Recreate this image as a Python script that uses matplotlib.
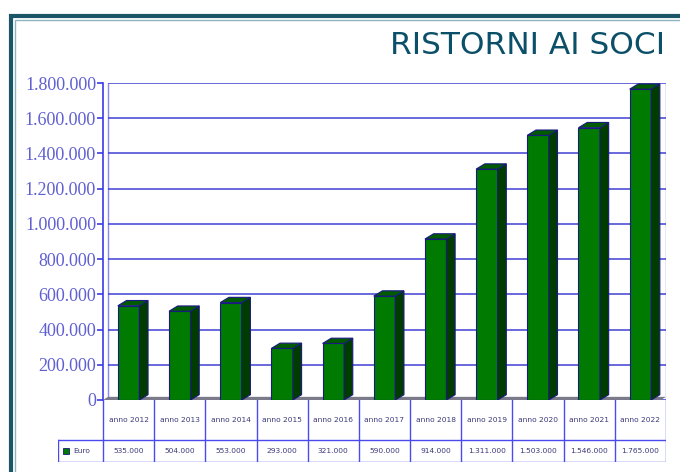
import numpy as np
import matplotlib.pyplot as plt
from matplotlib.patches import Polygon, Rectangle

plt.rcParams['font.serif'] = ['Liberation Serif', 'DejaVu Serif']

years = ['anno 2012', 'anno 2013', 'anno 2014', 'anno 2015', 'anno 2016', 'anno 2017',
         'anno 2018', 'anno 2019', 'anno 2020', 'anno 2021', 'anno 2022']
euro = [535000, 504000, 553000, 293000, 321000, 590000,
        914000, 1311000, 1503000, 1546000, 1765000]
value_labels = ['535.000', '504.000', '553.000', '293.000', '321.000', '590.000',
                '914.000', '1.311.000', '1.503.000', '1.546.000', '1.765.000']
yticks = np.arange(0, 1800001, 200000)

blue = '#3a3ae8'
tick_col = '#5f5fd2'
green = '#007a00'
dark_green = '#003c00'

W, H = 680, 472
fig = plt.figure(figsize=(W / 100, H / 100), dpi=100)
fig.patch.set_facecolor('white')

# outer frame
fig.patches.append(Rectangle((11 / W, -0.1), 1.2, (472 - 16) / H + 0.1, transform=fig.transFigure,
                             fill=False, ec='#1b5668', lw=3))
fig.patches.append(Rectangle((15 / W, -0.1), 1.2, (472 - 20) / H + 0.1, transform=fig.transFigure,
                             fill=False, ec='#8fb4c0', lw=1))

fig.text(665 / W, 1 - 45 / H, 'RISTORNI AI SOCI', ha='right', va='center',
         fontsize=22.5, color='#0b5068', family='DejaVu Sans')

ax = fig.add_axes([103 / W, (472 - 400) / H, (666 - 103) / W, (400 - 83) / H])
n = len(euro)
ax.set_xlim(0, n)
ax.set_ylim(0, 1800000)
ax.set_yticks(yticks)
ax.set_yticklabels(['{:,}'.format(v).replace(',', '.') for v in yticks],
                   family='serif', fontsize=13, color=tick_col)
ax.set_xticks([])
ax.tick_params(axis='y', length=4, color=blue, width=1.2, pad=1)
for s in ['top', 'right', 'bottom']:
    ax.spines[s].set_visible(False)
ax.spines['left'].set_color(blue)
ax.spines['left'].set_linewidth(1.2)

off = 0.1  # 3d wall offset in x units
ax.hlines(yticks, off, n, color='#3030d0', lw=1.2, alpha=0.85, zorder=1)
ax.vlines([off, n], 0, 1800000, color=blue, lw=1, alpha=0.6, zorder=1)
ax.add_patch(Polygon([(0, 0), (off, 18000), (n, 18000), (n - off, 0)], closed=True,
                     fc='#7a7a8a', ec='none', zorder=2))

bw = 0.42
dx, dy = 0.17, 30000
for i, v in enumerate(euro):
    x0 = i + 0.5 - bw / 2
    x1 = x0 + bw
    ax.add_patch(Rectangle((x0, 0), bw, v, fc=green, ec='#1a1a80', lw=0.8, zorder=3))
    ax.add_patch(Polygon([(x1, 0), (x1 + dx, dy), (x1 + dx, v + dy), (x1, v)],
                         fc=dark_green, ec='#1a1a80', lw=0.8, zorder=3))
    ax.add_patch(Polygon([(x0, v), (x0 + dx, v + dy), (x1 + dx, v + dy), (x1, v)],
                         fc='#005a00', ec='#1a1a80', lw=0.8, zorder=3))

# data table below the chart
tab = fig.add_axes([58 / W, (472 - 462) / H, (666 - 58) / W, (462 - 400) / H])
leg_w = 45 / ((666 - 103) / n)
tab.set_xlim(-leg_w, n)
tab.set_ylim(0, 62)
tab.axis('off')
lc = '#4a4aee'
row_split = 22
for i in range(n + 1):
    tab.plot([i, i], [0, 62], color=lc, lw=1)
tab.plot([-leg_w, -leg_w], [0, row_split], color=lc, lw=1)
tab.plot([-leg_w, n], [0, 0], color=lc, lw=1)
tab.plot([-leg_w, n], [row_split, row_split], color=lc, lw=1)
for i in range(n):
    tab.text(i + 0.5, 42, years[i], ha='center', va='center', fontsize=5.4,
             color='#3a3a7a')
    tab.text(i + 0.5, row_split / 2, value_labels[i], ha='center', va='center', fontsize=5.4,
             color='#3a3a7a')
tab.add_patch(Rectangle((-leg_w + 0.1, row_split / 2 - 3), 0.12, 6, fc=green, ec='#1a1a80', lw=0.6))
tab.text(-leg_w + 0.3, row_split / 2, 'Euro', ha='left', va='center', fontsize=5.4, color='#3a3a7a')

fig.savefig('out.png', dpi=100)
